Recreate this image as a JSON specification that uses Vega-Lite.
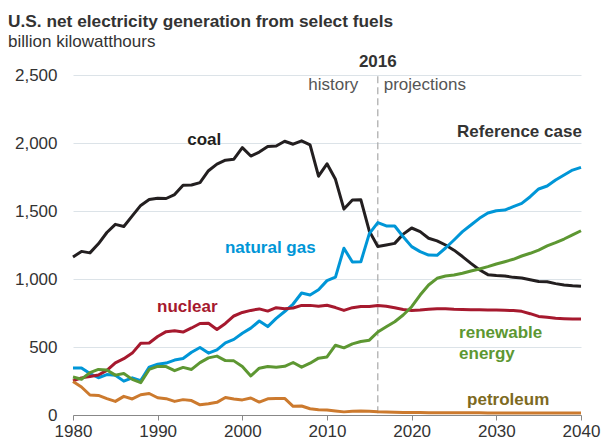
{
  "$schema": "https://vega.github.io/schema/vega-lite/v6.json",
  "width": 508,
  "height": 340,
  "autosize": {"type": "none"},
  "padding": {"left": 73, "top": 75, "right": 25, "bottom": 33},
  "background": "white",
  "title": {
    "text": "U.S. net electricity generation from select fuels",
    "subtitle": "billion kilowatthours",
    "anchor": "start",
    "frame": "group",
    "dx": -65,
    "offset": 3,
    "font": "Liberation Sans",
    "fontSize": 17.3,
    "fontWeight": "bold",
    "color": "#333333",
    "subtitleFont": "Liberation Sans",
    "subtitleFontSize": 17,
    "subtitleColor": "#333333",
    "subtitlePadding": 4
  },
  "config": {
    "view": {"stroke": null},
    "axis": {"labelFont": "Liberation Sans", "labelFontSize": 17, "labelColor": "#333333"}
  },
  "datasets": {
    "gen": [
      {"year": 1980, "coal": 1162, "natural gas": 346, "nuclear": 251, "renewable energy": 279, "petroleum": 246},
      {"year": 1981, "coal": 1203, "natural gas": 346, "nuclear": 273, "renewable energy": 263, "petroleum": 206},
      {"year": 1982, "coal": 1192, "natural gas": 305, "nuclear": 283, "renewable energy": 312, "petroleum": 147},
      {"year": 1983, "coal": 1259, "natural gas": 274, "nuclear": 294, "renewable energy": 335, "petroleum": 144},
      {"year": 1984, "coal": 1342, "natural gas": 297, "nuclear": 328, "renewable energy": 331, "petroleum": 120},
      {"year": 1985, "coal": 1402, "natural gas": 292, "nuclear": 384, "renewable energy": 293, "petroleum": 100},
      {"year": 1986, "coal": 1386, "natural gas": 249, "nuclear": 414, "renewable energy": 305, "petroleum": 137},
      {"year": 1987, "coal": 1464, "natural gas": 273, "nuclear": 455, "renewable energy": 262, "petroleum": 118},
      {"year": 1988, "coal": 1541, "natural gas": 253, "nuclear": 527, "renewable energy": 238, "petroleum": 149},
      {"year": 1989, "coal": 1584, "natural gas": 352, "nuclear": 529, "renewable energy": 335, "petroleum": 158},
      {"year": 1990, "coal": 1594, "natural gas": 373, "nuclear": 577, "renewable energy": 357, "petroleum": 127},
      {"year": 1991, "coal": 1592, "natural gas": 382, "nuclear": 613, "renewable energy": 356, "petroleum": 120},
      {"year": 1992, "coal": 1621, "natural gas": 404, "nuclear": 619, "renewable energy": 326, "petroleum": 100},
      {"year": 1993, "coal": 1690, "natural gas": 415, "nuclear": 610, "renewable energy": 350, "petroleum": 113},
      {"year": 1994, "coal": 1691, "natural gas": 461, "nuclear": 640, "renewable energy": 335, "petroleum": 106},
      {"year": 1995, "coal": 1709, "natural gas": 496, "nuclear": 673, "renewable energy": 385, "petroleum": 75},
      {"year": 1996, "coal": 1796, "natural gas": 455, "nuclear": 675, "renewable energy": 420, "petroleum": 82},
      {"year": 1997, "coal": 1845, "natural gas": 479, "nuclear": 629, "renewable energy": 433, "petroleum": 93},
      {"year": 1998, "coal": 1874, "natural gas": 531, "nuclear": 673, "renewable energy": 400, "petroleum": 129},
      {"year": 1999, "coal": 1881, "natural gas": 556, "nuclear": 728, "renewable energy": 398, "petroleum": 118},
      {"year": 2000, "coal": 1966, "natural gas": 601, "nuclear": 754, "renewable energy": 356, "petroleum": 111},
      {"year": 2001, "coal": 1904, "natural gas": 639, "nuclear": 769, "renewable energy": 287, "petroleum": 125},
      {"year": 2002, "coal": 1933, "natural gas": 691, "nuclear": 780, "renewable energy": 344, "petroleum": 95},
      {"year": 2003, "coal": 1974, "natural gas": 650, "nuclear": 764, "renewable energy": 356, "petroleum": 119},
      {"year": 2004, "coal": 1978, "natural gas": 710, "nuclear": 789, "renewable energy": 351, "petroleum": 121},
      {"year": 2005, "coal": 2013, "natural gas": 761, "nuclear": 782, "renewable energy": 358, "petroleum": 122},
      {"year": 2006, "coal": 1991, "natural gas": 816, "nuclear": 787, "renewable energy": 386, "petroleum": 64},
      {"year": 2007, "coal": 2016, "natural gas": 897, "nuclear": 806, "renewable energy": 352, "petroleum": 66},
      {"year": 2008, "coal": 1986, "natural gas": 883, "nuclear": 806, "renewable energy": 381, "petroleum": 46},
      {"year": 2009, "coal": 1756, "natural gas": 921, "nuclear": 799, "renewable energy": 418, "petroleum": 39},
      {"year": 2010, "coal": 1847, "natural gas": 988, "nuclear": 807, "renewable energy": 427, "petroleum": 37},
      {"year": 2011, "coal": 1733, "natural gas": 1014, "nuclear": 790, "renewable energy": 513, "petroleum": 30},
      {"year": 2012, "coal": 1514, "natural gas": 1226, "nuclear": 769, "renewable energy": 494, "petroleum": 23},
      {"year": 2013, "coal": 1581, "natural gas": 1125, "nuclear": 789, "renewable energy": 523, "petroleum": 27},
      {"year": 2014, "coal": 1582, "natural gas": 1127, "nuclear": 797, "renewable energy": 540, "petroleum": 30},
      {"year": 2015, "coal": 1352, "natural gas": 1334, "nuclear": 797, "renewable energy": 550, "petroleum": 28},
      {"year": 2016, "coal": 1239, "natural gas": 1415, "nuclear": 805, "renewable energy": 610, "petroleum": 24},
      {"year": 2017, "coal": 1250, "natural gas": 1390, "nuclear": 800, "renewable energy": 649, "petroleum": 22},
      {"year": 2018, "coal": 1262, "natural gas": 1390, "nuclear": 788, "renewable energy": 686, "petroleum": 20},
      {"year": 2019, "coal": 1330, "natural gas": 1311, "nuclear": 776, "renewable energy": 735, "petroleum": 19},
      {"year": 2020, "coal": 1375, "natural gas": 1238, "nuclear": 768, "renewable energy": 796, "petroleum": 18},
      {"year": 2021, "coal": 1348, "natural gas": 1201, "nuclear": 772, "renewable energy": 882, "petroleum": 18},
      {"year": 2022, "coal": 1300, "natural gas": 1176, "nuclear": 778, "renewable energy": 956, "petroleum": 17},
      {"year": 2023, "coal": 1280, "natural gas": 1174, "nuclear": 782, "renewable energy": 1005, "petroleum": 17},
      {"year": 2024, "coal": 1250, "natural gas": 1228, "nuclear": 782, "renewable energy": 1022, "petroleum": 17},
      {"year": 2025, "coal": 1212, "natural gas": 1287, "nuclear": 778, "renewable energy": 1029, "petroleum": 16},
      {"year": 2026, "coal": 1165, "natural gas": 1348, "nuclear": 776, "renewable energy": 1042, "petroleum": 16},
      {"year": 2027, "coal": 1115, "natural gas": 1397, "nuclear": 774, "renewable energy": 1059, "petroleum": 16},
      {"year": 2028, "coal": 1068, "natural gas": 1446, "nuclear": 773, "renewable energy": 1074, "petroleum": 16},
      {"year": 2029, "coal": 1032, "natural gas": 1485, "nuclear": 772, "renewable energy": 1091, "petroleum": 15},
      {"year": 2030, "coal": 1025, "natural gas": 1502, "nuclear": 772, "renewable energy": 1110, "petroleum": 15},
      {"year": 2031, "coal": 1022, "natural gas": 1507, "nuclear": 770, "renewable energy": 1127, "petroleum": 15},
      {"year": 2032, "coal": 1012, "natural gas": 1532, "nuclear": 768, "renewable energy": 1145, "petroleum": 15},
      {"year": 2033, "coal": 1008, "natural gas": 1556, "nuclear": 762, "renewable energy": 1169, "petroleum": 15},
      {"year": 2034, "coal": 995, "natural gas": 1605, "nuclear": 745, "renewable energy": 1189, "petroleum": 14},
      {"year": 2035, "coal": 982, "natural gas": 1662, "nuclear": 725, "renewable energy": 1213, "petroleum": 14},
      {"year": 2036, "coal": 980, "natural gas": 1684, "nuclear": 718, "renewable energy": 1243, "petroleum": 14},
      {"year": 2037, "coal": 966, "natural gas": 1728, "nuclear": 712, "renewable energy": 1267, "petroleum": 14},
      {"year": 2038, "coal": 956, "natural gas": 1765, "nuclear": 708, "renewable energy": 1294, "petroleum": 14},
      {"year": 2039, "coal": 950, "natural gas": 1801, "nuclear": 705, "renewable energy": 1324, "petroleum": 14},
      {"year": 2040, "coal": 946, "natural gas": 1821, "nuclear": 706, "renewable energy": 1355, "petroleum": 14}
    ],
    "centerLabels": [
      {"year": 1995.5, "value": 2022, "label": "coal", "key": "coal"},
      {"year": 2003.3, "value": 1228, "label": "natural gas", "key": "natural gas"},
      {"year": 1993.5, "value": 794, "label": "nuclear", "key": "nuclear"},
      {"year": 2031.4, "value": 110, "label": "petroleum", "key": "petroleum"},
      {"year": 2016, "value": 2596, "label": "2016", "key": "heading"}
    ],
    "renewLabels": [
      {"year": 2025.6, "value": 603, "label": "renewable"},
      {"year": 2025.6, "value": 449, "label": "energy"}
    ],
    "rightLabels": [
      {"year": 2040.1, "value": 2081, "label": "Reference case"}
    ],
    "historyLabel": [
      {"year": 2013.7, "value": 2426, "label": "history"}
    ],
    "projectionLabel": [
      {"year": 2016.7, "value": 2426, "label": "projections"}
    ],
    "divider": [
      {"year": 2016, "top": 2490, "bottom": 0}
    ]
  },
  "layer": [
    {
      "data": {"name": "divider"},
      "mark": {"type": "rule", "color": "#a9a9a9", "strokeWidth": 1.2, "strokeDash": [7, 4]},
      "encoding": {
        "x": {"field": "year", "type": "quantitative", "scale": {"domain": [1980, 2040], "nice": false, "zero": false}},
        "y": {"field": "top", "type": "quantitative"},
        "y2": {"field": "bottom"}
      }
    },
    {
      "data": {"name": "gen"},
      "transform": [
        {"fold": ["coal", "natural gas", "nuclear", "renewable energy", "petroleum"], "as": ["fuel", "value"]}
      ],
      "mark": {"type": "line", "strokeWidth": 3, "strokeJoin": "round"},
      "encoding": {
        "x": {
          "field": "year", "type": "quantitative",
          "scale": {"domain": [1980, 2040], "nice": false, "zero": false},
          "axis": {
            "title": null, "values": [1980, 1990, 2000, 2010, 2020, 2030, 2040], "format": "d",
            "grid": false, "domainColor": "#888888", "tickColor": "#888888", "tickSize": 5,
            "labelPadding": 3, "labelFlush": false
          }
        },
        "y": {
          "field": "value", "type": "quantitative",
          "scale": {"domain": [0, 2500], "nice": false},
          "axis": {
            "title": null, "values": [0, 500, 1000, 1500, 2000, 2500], "format": ",.0f",
            "domain": false, "ticks": false, "labelPadding": 16, "gridColor": "#dce3e8", "gridWidth": 1
          }
        },
        "color": {
          "field": "fuel", "type": "nominal", "legend": null,
          "scale": {
            "domain": ["coal", "natural gas", "nuclear", "renewable energy", "petroleum"],
            "range": ["#231f20", "#0096d7", "#a6192e", "#5d9732", "#cc7a2e"]
          }
        },
        "detail": {"field": "fuel"}
      }
    },
    {
      "data": {"name": "centerLabels"},
      "mark": {"type": "text", "font": "Liberation Sans", "fontSize": 17, "fontWeight": "bold", "baseline": "middle", "align": "center"},
      "encoding": {
        "x": {"field": "year", "type": "quantitative"},
        "y": {"field": "value", "type": "quantitative"},
        "text": {"field": "label"},
        "color": {
          "field": "key", "type": "nominal", "legend": null,
          "scale": {
            "domain": ["coal", "natural gas", "nuclear", "petroleum", "heading"],
            "range": ["#231f20", "#0096d7", "#a6192e", "#7d6a22", "#333333"]
          }
        }
      }
    },
    {
      "data": {"name": "renewLabels"},
      "mark": {"type": "text", "font": "Liberation Sans", "fontSize": 17, "fontWeight": "bold", "baseline": "middle", "align": "left", "color": "#5d9732"},
      "encoding": {
        "x": {"field": "year", "type": "quantitative"},
        "y": {"field": "value", "type": "quantitative"},
        "text": {"field": "label"}
      }
    },
    {
      "data": {"name": "rightLabels"},
      "mark": {"type": "text", "font": "Liberation Sans", "fontSize": 17, "fontWeight": "bold", "baseline": "middle", "align": "right", "color": "#333333"},
      "encoding": {
        "x": {"field": "year", "type": "quantitative"},
        "y": {"field": "value", "type": "quantitative"},
        "text": {"field": "label"}
      }
    },
    {
      "data": {"name": "historyLabel"},
      "mark": {"type": "text", "font": "Liberation Sans", "fontSize": 17, "baseline": "middle", "align": "right", "color": "#555555"},
      "encoding": {
        "x": {"field": "year", "type": "quantitative"},
        "y": {"field": "value", "type": "quantitative"},
        "text": {"field": "label"}
      }
    },
    {
      "data": {"name": "projectionLabel"},
      "mark": {"type": "text", "font": "Liberation Sans", "fontSize": 17, "baseline": "middle", "align": "left", "color": "#555555"},
      "encoding": {
        "x": {"field": "year", "type": "quantitative"},
        "y": {"field": "value", "type": "quantitative"},
        "text": {"field": "label"}
      }
    }
  ],
  "resolve": {"scale": {"color": "independent"}}
}
